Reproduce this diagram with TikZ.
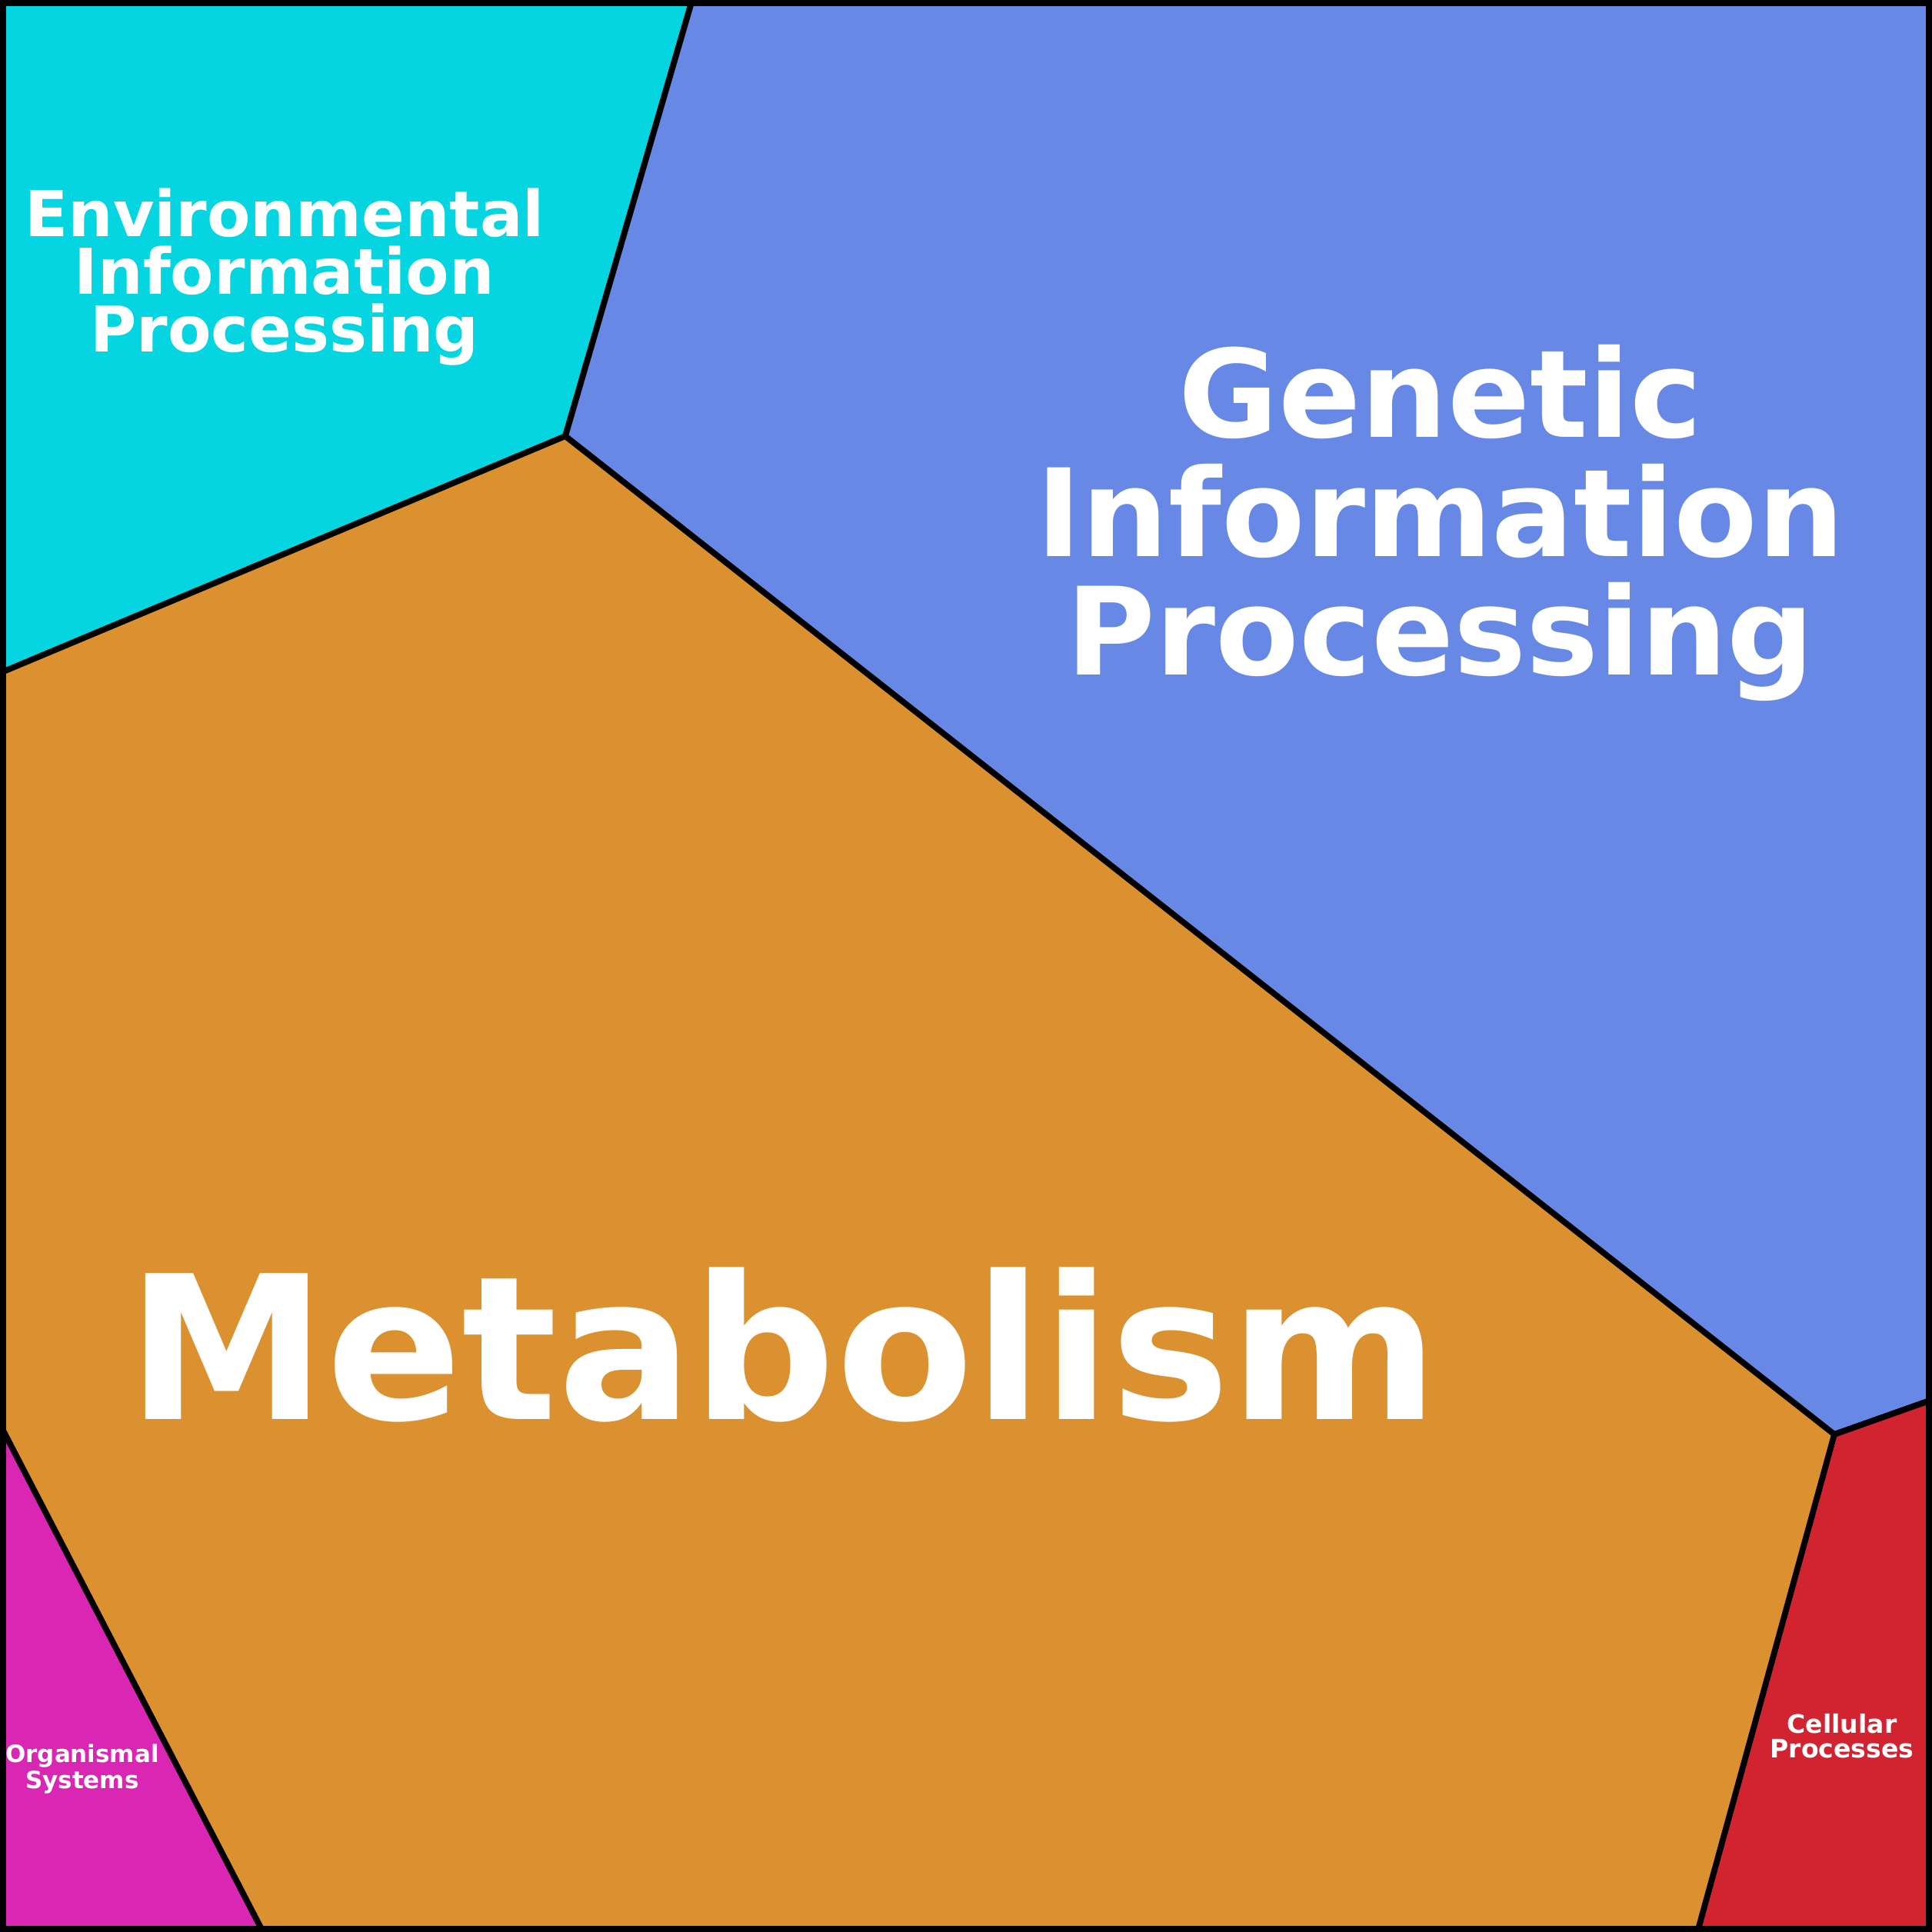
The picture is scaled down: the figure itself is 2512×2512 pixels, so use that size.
\documentclass[tikz,border=0pt]{standalone}
\usepackage{fontspec}
\setmainfont{DejaVu Sans}
\definecolor{env}{HTML}{05D5E0}
\definecolor{gen}{HTML}{6789E5}
\definecolor{met}{HTML}{DB9130}
\definecolor{cel}{HTML}{D22331}
\definecolor{org}{HTML}{DA27B3}
\begin{document}
\begin{tikzpicture}[x=0.01cm,y=-0.01cm,
  cell/.style={draw=black,line width=2.2pt,line join=round},
  lab/.style={text=white,font=\bfseries,align=center,inner sep=0pt}]
\useasboundingbox (0,0) rectangle (2512,2512);
\coordinate (a) at (900,0);
\coordinate (b) at (735,567);
\coordinate (c) at (0,875);
\coordinate (d) at (2385,1865);
\coordinate (e) at (2512,1820);
\coordinate (f) at (2207,2512);
\coordinate (g) at (0,1852);
\coordinate (h) at (342,2512);
\fill[met] (0,0) rectangle (2512,2512);
\filldraw[cell,fill=env] (0,0) -- (a) -- (b) -- (c) -- cycle;
\filldraw[cell,fill=gen] (a) -- (2512,0) -- (e) -- (d) -- (b) -- cycle;
\filldraw[cell,fill=cel] (d) -- (e) -- (2512,2512) -- (f) -- cycle;
\filldraw[cell,fill=org] (g) -- (h) -- (0,2512) -- cycle;
\draw[line width=4.5pt] (0,0) rectangle (2512,2512);
\node[lab,font=\bfseries\fontsize{23.4}{21.3}\selectfont] (envl) at (370,360) {Environmental\\Information\\Processing};
\node[lab,font=\bfseries\fontsize{45}{44}\selectfont] (genl) at (1873,680) {Genetic\\Information\\Processing};
\node[lab,font=\bfseries\fontsize{74}{74}\selectfont,anchor=base] (metl) at (1018,1845) {Metabolism};
\node[lab,font=\bfseries\fontsize{9.4}{9.1}\selectfont] (cell) at (2395,2257) {Cellular\\Processes};
\node[lab,font=\bfseries\fontsize{8.8}{8}\selectfont] (orgl) at (107,2300) {Organismal\\Systems};
\end{tikzpicture}
\end{document}
